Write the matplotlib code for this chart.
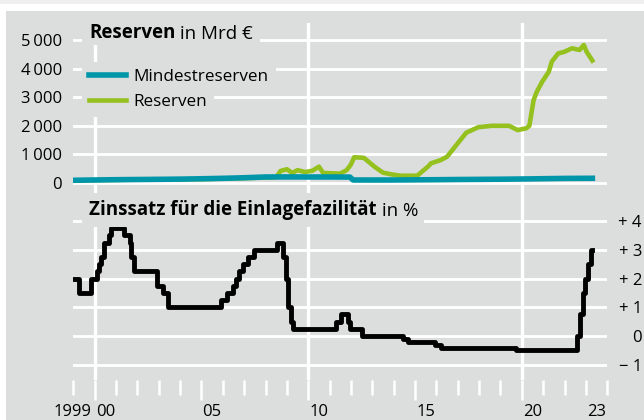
import matplotlib
matplotlib.use("Agg")
import matplotlib.pyplot as plt
import matplotlib.transforms as mtransforms
from matplotlib.patches import Rectangle
from matplotlib.text import Annotation

plt.rcParams['font.family'] = ['Open Sans', 'DejaVu Sans']

# Mindestreserven (Mrd EUR)
req_years = [1999.0, 2000.0, 2001.0, 2002.0, 2003.0, 2004.0, 2005.0, 2006.0, 2007.0,
             2008.0, 2009.0, 2010.0, 2011.0, 2011.95, 2012.1, 2013.0, 2014.0, 2015.0,
             2016.0, 2017.0, 2018.0, 2019.0, 2020.0, 2021.0, 2022.0, 2023.3]
req_values = [95, 105, 115, 122, 128, 135, 148, 163, 183,
              210, 212, 210, 210, 207, 105, 104, 105, 110,
              115, 122, 127, 132, 140, 150, 160, 165]

# Reserven (Mrd EUR)
res_years = [1999.0, 2002.0, 2005.0, 2007.0, 2008.5, 2008.7, 2009.0, 2009.25, 2009.5,
             2009.85, 2010.2, 2010.5, 2010.7, 2011.5, 2011.8, 2012.0, 2012.15, 2012.6,
             2013.1, 2013.5, 2013.9, 2014.3, 2015.1, 2015.6, 2015.75, 2016.2, 2016.5,
             2017.0, 2017.4, 2017.96, 2018.6, 2019.4, 2019.8, 2020.2, 2020.35, 2020.55,
             2020.7, 2020.95, 2021.26, 2021.4, 2021.7, 2022.0, 2022.35, 2022.7, 2022.9,
             2023.03, 2023.3]
res_values = [90, 118, 135, 170, 200, 420, 480, 350, 450,
              380, 430, 570, 350, 330, 450, 650, 900, 880,
              570, 360, 300, 255, 255, 570, 690, 800, 920,
              1390, 1760, 1950, 2000, 2000, 1850, 1910, 2000, 2900,
              3190, 3540, 3890, 4240, 4530, 4590, 4710, 4650, 4825,
              4590, 4280]

# Zinssatz fuer die Einlagefazilitaet (%)
rate_years = [1999.0, 1999.27, 1999.85, 2000.1, 2000.21, 2000.32, 2000.44, 2000.67, 2000.77,
              2001.36, 2001.66, 2001.72, 2001.86, 2002.93, 2003.19, 2003.43, 2005.92,
              2006.18, 2006.46, 2006.61, 2006.78, 2006.94, 2007.2, 2007.45, 2008.52,
              2008.8, 2008.95, 2009.06, 2009.19, 2009.27, 2011.28, 2011.53, 2011.86,
              2011.96, 2012.53, 2014.44, 2014.69, 2015.93, 2016.21, 2019.71, 2022.57,
              2022.7, 2022.85, 2022.97, 2023.1, 2023.22, 2023.3]
rate_values = [2.00, 1.50, 2.00, 2.25, 2.50, 2.75, 3.25, 3.50, 3.75,
               3.50, 3.25, 2.75, 2.25, 1.75, 1.50, 1.00, 1.25,
               1.50, 1.75, 2.00, 2.25, 2.50, 2.75, 3.00, 3.25,
               2.75, 2.00, 1.00, 0.50, 0.25, 0.50, 0.75, 0.50,
               0.25, 0.00, -0.10, -0.20, -0.30, -0.40, -0.50, 0.00,
               0.75, 1.50, 2.00, 2.50, 3.00, 3.00]

top_ticks = [0, 1000, 2000, 3000, 4000, 5000]
top_labels = ['0', '1\u2009000', '2\u2009000', '3\u2009000', '4\u2009000', '5\u2009000']
rate_ticks = [-1, 0, 1, 2, 3, 4]
rate_labels = ['\u2212 1', '0', '+ 1', '+ 2', '+ 3', '+ 4']
year_labels = [(1999, '1999'), (2000, '00'), (2005, '05'), (2010, '10'),
               (2015, '15'), (2020, '20'), (2023, '23')]

W, H = 644, 420
panel = '#dcdddd'
teal = '#0096a9'
green = '#95c11f'
fs = 12
tfs = 13.5


def fx(px):
    return px / W


def fy(py):
    return 1 - py / H


fig = plt.figure(figsize=(W / 100, H / 100), dpi=100)
fig.patch.set_facecolor('white')
fig.add_artist(Rectangle((0, fy(4)), 1, 4 / H, transform=fig.transFigure,
                         facecolor='#efefef', edgecolor='none', zorder=-10))
fig.add_artist(Rectangle((fx(6), 0), 1, fy(10.5), transform=fig.transFigure,
                         facecolor=panel, edgecolor='none', zorder=-10))

left, right = 73.3, 607.3
ax1 = fig.add_axes([fx(left), fy(195), (right - left) / W, (195 - 23) / H])
ax2 = fig.add_axes([fx(left), fy(380), (right - left) / W, (380 - 195) / H])

for ax in (ax1, ax2):
    ax.set_facecolor('none')
    for s in ax.spines.values():
        s.set_visible(False)
    ax.set_xlim(1999, 2024)
    ax.set_axisbelow(True)
    ax.grid(axis='y', color='white', linewidth=2.0)
    for yr in (2000, 2010, 2020):
        ax.axvline(yr, color='white', linewidth=2.4, zorder=0.6)

# upper panel
ax1.set_ylim(-420, 5594)
ax1.set_yticks(top_ticks, top_labels)
ax1.tick_params(axis='y', length=0, pad=8, labelsize=fs)
ax1.set_xticks([])
ax1.plot(res_years, res_values, color=green, linewidth=3.3, label='Reserven', zorder=3)
ax1.plot(req_years, req_values, color=teal, linewidth=4.0, label='Mindestreserven', zorder=4)

handles, labels = ax1.get_legend_handles_labels()
lfs = 12.3
leg_opts = dict(loc='upper left', bbox_transform=fig.transFigure, frameon=True,
                facecolor=panel, edgecolor='none', framealpha=1, fancybox=False,
                borderpad=0.4, handlelength=2.2, handletextpad=0.42, borderaxespad=0,
                fontsize=lfs)
leg1 = ax1.legend([handles[1]], [labels[1]], bbox_to_anchor=(fx(82), fy(62)), **leg_opts)
ax1.add_artist(leg1)
leg2 = ax1.legend([handles[0]], [labels[0]], bbox_to_anchor=(fx(82), fy(87)), **leg_opts)

# lower panel
ax2.set_ylim(-1.53, 4.904)
ax2.set_yticks(rate_ticks)
ax2.tick_params(axis='y', length=0, labelleft=False)
ax2.set_xticks(range(2000, 2025, 5))
ax2.set_xticks(range(1999, 2025), minor=True)
ax2.tick_params(axis='x', which='major', direction='out', length=14.4, width=1.8,
                color='white', labelbottom=False)
ax2.tick_params(axis='x', which='minor', direction='out', length=10.8, width=1.8,
                color='white')
ax2.plot(rate_years, rate_values, color='black', linewidth=3.5,
         drawstyle='steps-post', zorder=3)

ytr = mtransforms.blended_transform_factory(fig.transFigure, ax2.transData)
for v, lab in zip(rate_ticks, rate_labels):
    fig.text(fx(642), v, lab, transform=ytr, ha='right', va='center_baseline', fontsize=fs)

xtr = mtransforms.blended_transform_factory(ax2.transData, fig.transFigure)
for yr, lab in year_labels:
    if lab == '1999':
        fig.text(yr + 0.87, fy(411.5), lab, transform=xtr, ha='right', va='center', fontsize=fs)
    else:
        fig.text(yr + 0.5, fy(411.5), lab, transform=xtr, ha='center', va='center', fontsize=fs)


def title(x, y, bold, rest, box):
    x0, y0, x1, y1 = box
    fig.add_artist(Rectangle((fx(x0), fy(y1)), (x1 - x0) / W, (y1 - y0) / H,
                             transform=fig.transFigure, facecolor=panel,
                             edgecolor='none', zorder=1))
    t = fig.text(fx(x), fy(y), bold, fontsize=tfs, fontweight='bold',
                 va='baseline', zorder=2)
    a = Annotation(rest, xy=(1, 0), xycoords=t, va='bottom', fontsize=tfs,
                   annotation_clip=False, zorder=2)
    fig.add_artist(a)


title(89, 38.3, 'Reserven', ' in Mrd \u20ac', (82, 20, 260, 45))
title(89, 215.5, 'Zinssatz f\u00fcr die Einlagefazilit\u00e4t', ' in %', (82, 193, 424, 227))

fig.savefig('out.png', dpi=100)
